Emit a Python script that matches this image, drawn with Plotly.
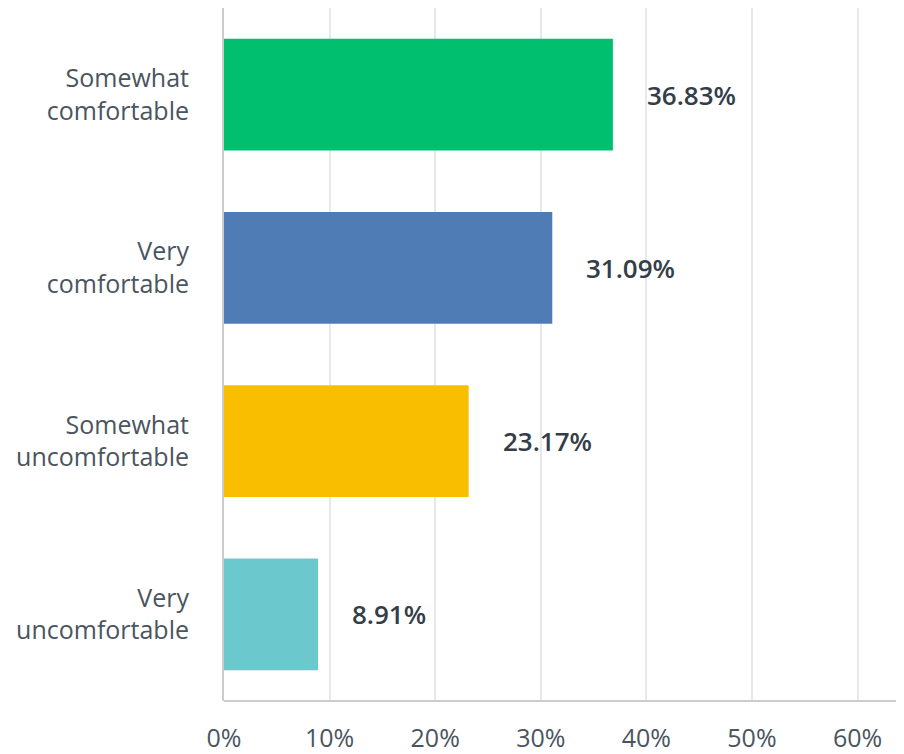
import plotly.graph_objects as go

# risposte e percentuali
categorie = ["Somewhat<br>comfortable", "Very<br>comfortable",
             "Somewhat<br>uncomfortable", "Very<br>uncomfortable"]
valori = [36.83, 31.09, 23.17, 8.91]
etichette = ["36.83%", "31.09%", "23.17%", "8.91%"]
colori = ["#00BF6F", "#507CB6", "#F9BE00", "#6BC8CD"]
tick_valori = [0, 10, 20, 30, 40, 50, 60]
tick_testi = ["0%", "10%", "20%", "30%", "40%", "50%", "60%"]

fig = go.Figure()
fig.add_trace(go.Bar(
    x=valori, y=categorie, orientation="h",
    marker=dict(color=colori, line=dict(width=0)),
    hoverinfo="skip",
))

for cat, val, txt in zip(categorie, valori, etichette):
    fig.add_annotation(
        x=val, y=cat, text=txt, showarrow=False,
        xanchor="left", xshift=32,
        font=dict(family="Open Sans", size=26, color="#333E48", weight=600),
    )

# la pagina html ha 8px di margine: figura un po' più piccola
fig.update_layout(
    width=896, height=746,
    margin=dict(l=216, r=0, t=0, b=48),
    paper_bgcolor="white", plot_bgcolor="white",
    showlegend=False, bargap=0.355,
    font=dict(family="Open Sans", size=25, color="#4A5560"),
)
fig.update_xaxes(
    range=[0, 64.4], tickvals=tick_valori, ticktext=tick_testi,
    showgrid=True, gridcolor="#E8E8E8", gridwidth=2,
    zeroline=False, showline=False, ticks="", ticklabelstandoff=20,
)
fig.update_yaxes(
    autorange="reversed", showgrid=False, zeroline=False,
    showline=True, linecolor="#CCCCCC", linewidth=2,
    ticks="", ticklabelstandoff=28,
)
# linea base dell'asse x
fig.add_shape(type="line", xref="x", yref="paper", x0=0, x1=64.4, y0=0, y1=0,
              line=dict(color="#CCCCCC", width=2))

fig.write_html("out.html")
